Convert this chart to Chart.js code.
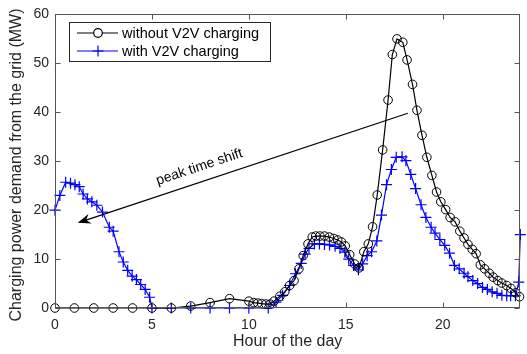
<!DOCTYPE html>
<html>
<head>
<meta charset="utf-8">
<script src="https://cdn.jsdelivr.net/npm/chart.js@4.4.1/dist/chart.umd.min.js"></script>
<style>
  html, body { margin: 0; padding: 0; background: #fff; }
  #chart { display: block; }
</style>
</head>
<body>
<canvas id="chart" width="527" height="354"></canvas>
<script>
// hour of the day / demand (MW)
const hoursWithout = [0, 1, 2, 3, 4, 5, 6, 7, 8, 9, 10,
  10.25, 10.46, 10.66, 10.88, 11.1, 11.3, 11.6, 11.85, 12.1, 12.33, 12.58, 12.8,
  13.05, 13.27, 13.45, 13.66, 13.9, 14.15, 14.38, 14.58, 14.77, 14.97, 15.2, 15.45,
  15.68, 15.93, 16.16, 16.38, 16.62, 16.9, 17.18, 17.4, 17.64, 17.94, 18.16, 18.44,
  18.67, 18.93, 19.18, 19.44, 19.68, 19.9, 20.15, 20.38, 20.64, 20.88, 21.1, 21.3,
  21.52, 21.72, 21.94, 22.16, 22.4, 22.6, 22.84, 23.04, 23.3, 23.52, 23.76, 23.96];
const demandWithout = [0, 0, 0, 0, 0, 0, 0, 0.4, 1.1, 1.9, 1.4,
  1.1, 1.0, 0.9, 0.8, 0.8, 1.4, 2.4, 3.3, 4.6, 5.6, 8.0, 10.7,
  13.1, 14.5, 14.7, 14.7, 14.7, 14.5, 14.2, 13.9, 13.5, 12.7, 10.9, 9.0,
  8.2, 11.5, 13.1, 16.6, 23.1, 32.3, 42.5, 51.8, 55.0, 54.3, 50.7, 45.7,
  40.4, 35.3, 30.8, 27.1, 23.7, 21.7, 20.1, 18.5, 17.6, 15.7, 14.3, 13.0,
  12.0, 11.1, 8.8, 8.0, 7.1, 6.3, 5.6, 5.1, 4.6, 4.0, 3.1, 2.3];

const hoursWith = [0, 0.25, 0.55, 0.8, 1.03, 1.25, 1.45, 1.67, 1.9, 2.16, 2.45,
  2.8, 3.0, 3.3, 3.52, 3.75, 3.98, 4.2, 4.42, 4.65, 4.88, 5,
  6, 7, 8, 9, 10, 11,
  11.4, 11.74, 12.1, 12.4, 12.7, 12.9, 13.1, 13.38, 13.64, 13.9, 14.16, 14.45,
  14.7, 14.95, 15.15, 15.4, 15.65, 15.87, 16.1, 16.33, 16.6, 16.84, 17.1, 17.35,
  17.6, 17.9, 18.1, 18.35, 18.6, 18.88, 19.13, 19.4, 19.6, 19.85, 20.1, 20.35,
  20.6, 20.85, 21.1, 21.3, 21.55, 21.8, 22.05, 22.3, 22.55, 22.8, 23.05, 23.3,
  23.5, 23.75, 23.92, 24];
const demandWith = [20, 23.0, 25.7, 25.5, 25.2, 24.8, 23.3, 22.3, 21.7, 21.0, 19.6,
  16.5, 15.7, 11.5, 9.4, 7.7, 6.5, 5.8, 4.8, 3.8, 2.2, 0,
  0, 0, 0, 0, 0, 0,
  1.2, 2.6, 4.6, 7.0, 9.1, 11.0, 12.2, 13.1, 13.1, 13.0, 12.9, 12.6,
  12.2, 11.4, 10.0, 8.7, 7.8, 9.0, 10.7, 11.5, 13.7, 19.0, 25.2, 28.3,
  30.8, 30.9, 30.1, 27.3, 24.4, 21.1, 18.5, 16.5, 15.3, 14.0, 12.8, 11.2,
  8.7, 8.0, 7.1, 6.4, 5.6, 5.0, 4.2, 3.8, 3.3, 3.0, 2.6, 2.5,
  2.5, 2.5, 5.3, 15];

const seriesNames = ['without V2V charging', 'with V2V charging'];
const xTicks = [0, 5, 10, 15, 20];
const yTicks = [0, 10, 20, 30, 40, 50, 60];

// annotation arrow, in data units: tail -> head
const arrowFrom = [18.2, 39.8];
const arrowTo = [1.17, 17.4];
const arrowLabel = 'peak time shift';
const arrowLabelAt = [7.45, 28.8];

const axisColor = '#555555';
const textColor = '#262626';
const fontFamily = '"Liberation Sans", Arial, Helvetica, sans-serif';

function toPoints(xs, ys) {
  return xs.map((h, i) => ({ x: h, y: ys[i] }));
}

const decor = {
  id: 'decor',
  afterDraw(chart) {
    const { ctx, chartArea: a, scales: { x, y } } = chart;
    ctx.save();

    // box and inward ticks on all four sides
    ctx.strokeStyle = axisColor;
    ctx.lineWidth = 1;
    const L = Math.round(a.left) + 0.5, R = Math.round(a.right) - 0.5;
    const T = Math.round(a.top) + 0.5, B = Math.round(a.bottom) - 0.5;
    ctx.strokeRect(L, T, R - L, B - T);
    ctx.beginPath();
    xTicks.forEach(v => {
      const px = Math.round(x.getPixelForValue(v)) + 0.5;
      ctx.moveTo(px, B); ctx.lineTo(px, B - 5);
      ctx.moveTo(px, T); ctx.lineTo(px, T + 5);
    });
    yTicks.forEach(v => {
      const py = Math.round(y.getPixelForValue(v)) + 0.5;
      ctx.moveTo(L, py); ctx.lineTo(L + 5, py);
      ctx.moveTo(R, py); ctx.lineTo(R - 5, py);
    });
    ctx.stroke();

    // axis titles
    ctx.fillStyle = textColor;
    ctx.font = '16px ' + fontFamily;
    ctx.textAlign = 'center';
    ctx.textBaseline = 'middle';
    ctx.fillText('Hour of the day', (a.left + a.right) / 2, 342);
    ctx.save();
    ctx.translate(17, 165);
    ctx.rotate(-Math.PI / 2);
    ctx.fillText('Charging power demand from the grid (MW)', 0, 0);
    ctx.restore();

    // arrow
    const x0 = x.getPixelForValue(arrowFrom[0]), y0 = y.getPixelForValue(arrowFrom[1]);
    const x1 = x.getPixelForValue(arrowTo[0]), y1 = y.getPixelForValue(arrowTo[1]);
    const ang = Math.atan2(y1 - y0, x1 - x0);
    ctx.strokeStyle = '#000';
    ctx.fillStyle = '#000';
    ctx.lineWidth = 1.2;
    ctx.beginPath();
    ctx.moveTo(x0, y0);
    ctx.lineTo(x1 - 8 * Math.cos(ang), y1 - 8 * Math.sin(ang));
    ctx.stroke();
    ctx.save();
    ctx.translate(x1, y1);
    ctx.rotate(ang);
    ctx.beginPath();
    ctx.moveTo(0, 0);
    ctx.lineTo(-13, -5);
    ctx.lineTo(-9, 0);
    ctx.lineTo(-13, 5);
    ctx.closePath();
    ctx.fill();
    ctx.restore();

    // arrow label, turned with the arrow
    ctx.save();
    ctx.translate(x.getPixelForValue(arrowLabelAt[0]), y.getPixelForValue(arrowLabelAt[1]));
    ctx.rotate(ang + Math.PI);
    ctx.font = '14px ' + fontFamily;
    ctx.fillStyle = '#000';
    ctx.textAlign = 'center';
    ctx.textBaseline = 'middle';
    ctx.fillText(arrowLabel, 0, 0);
    ctx.restore();

    // legend
    const bx = 69.5, by = 22.5, bw = 201, bh = 39;
    ctx.fillStyle = '#fff';
    ctx.fillRect(bx, by, bw, bh);
    ctx.strokeStyle = textColor;
    ctx.lineWidth = 1;
    ctx.strokeRect(bx, by, bw, bh);
    ctx.font = '14.5px ' + fontFamily;
    ctx.textAlign = 'left';
    ctx.textBaseline = 'middle';
    chart.data.datasets.forEach((ds, i) => {
      const ry = 33 + i * 18;
      ctx.strokeStyle = ds.borderColor;
      ctx.lineWidth = 1.2;
      ctx.beginPath();
      ctx.moveTo(77, ry); ctx.lineTo(118, ry);
      ctx.stroke();
      Chart.helpers.drawPoint(ctx, {
        pointStyle: ds.pointStyle, radius: ds.pointRadius, borderWidth: ds.pointBorderWidth
      }, 98, ry);
      ctx.fillStyle = '#000';
      ctx.fillText(seriesNames[i], 122, ry + 1);
    });

    ctx.restore();
  }
};

new Chart(document.getElementById('chart'), {
  type: 'line',
  data: {
    datasets: [
      {
        label: seriesNames[0],
        data: toPoints(hoursWithout, demandWithout),
        borderColor: '#000000',
        borderWidth: 1.2,
        pointStyle: 'circle',
        pointRadius: 4.3,
        pointBorderWidth: 1,
        pointBorderColor: '#000000',
        pointBackgroundColor: 'rgba(0,0,0,0)',
        clip: false
      },
      {
        label: seriesNames[1],
        data: toPoints(hoursWith, demandWith),
        borderColor: '#0000ff',
        borderWidth: 1.2,
        pointStyle: 'cross',
        pointRadius: 5.5,
        pointBorderWidth: 1.2,
        pointBorderColor: '#0000ff',
        clip: false
      }
    ]
  },
  options: {
    responsive: false,
    animation: false,
    devicePixelRatio: 1,
    layout: { padding: { top: 10, right: 2, left: 0, bottom: 0 } },
    scales: {
      x: {
        type: 'linear',
        min: 0,
        max: 24,
        afterFit: s => { s.height = 46; },
        afterBuildTicks: s => { s.ticks = xTicks.map(v => ({ value: v })); },
        grid: { display: false, drawTicks: false },
        border: { display: false },
        ticks: { padding: 9, color: textColor, font: { size: 14, family: fontFamily } }
      },
      y: {
        min: 0,
        max: 60,
        afterFit: s => { s.width = 55; },
        afterBuildTicks: s => { s.ticks = yTicks.map(v => ({ value: v })); },
        grid: { display: false, drawTicks: false },
        border: { display: false },
        ticks: { padding: 6, color: textColor, font: { size: 14, family: fontFamily } }
      }
    },
    plugins: {
      legend: { display: false },
      tooltip: { enabled: false }
    }
  },
  plugins: [decor]
});
</script>
</body>
</html>
